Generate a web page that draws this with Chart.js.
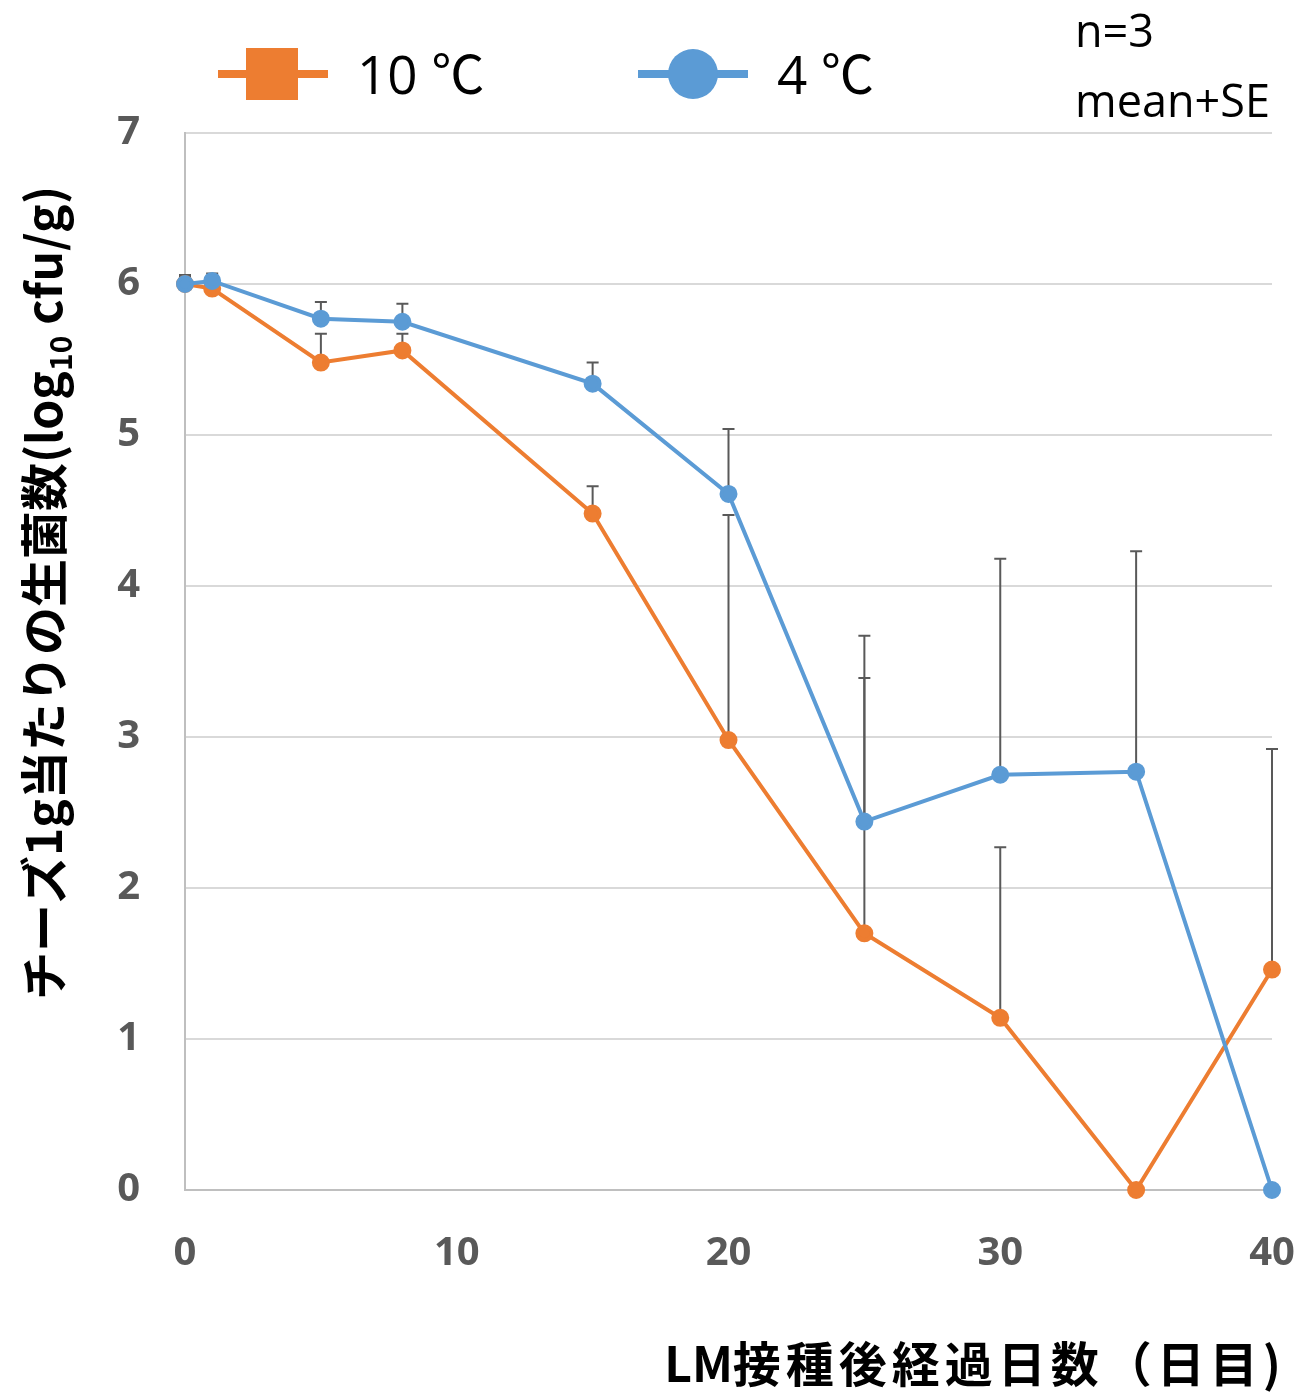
<!DOCTYPE html>
<html>
<head>
<meta charset="utf-8">
<script src="https://cdn.jsdelivr.net/npm/chart.js@4.4.1/dist/chart.umd.min.js"></script>
<style>
  html, body { margin: 0; padding: 0; background: #fff; }
  #wrap { width: 1301px; height: 1392px; }
</style>
</head>
<body>
<div id="wrap"><canvas id="chart" width="1301" height="1392"></canvas></div>
<script>
// days after LM inoculation
var days = [0, 1, 5, 8, 15, 20, 25, 30, 35, 40];
// 10 C
var mean10 = [6.00, 5.97, 5.48, 5.56, 4.48, 2.98, 1.70, 1.14, 0.00, 1.46];
var se10 = [0.05, 0.05, 0.19, 0.11, 0.18, 1.49, 1.69, 1.13, 0, 1.46];
// 4 C
var mean4 = [6.00, 6.02, 5.77, 5.75, 5.34, 4.61, 2.44, 2.75, 2.77, 0.00];
var se4 = [0.06, 0.05, 0.11, 0.12, 0.14, 0.43, 1.23, 1.43, 1.46, 0];

var xTicks = [0, 10, 20, 30, 40];
var yTicks = [0, 1, 2, 3, 4, 5, 6, 7];

var ORANGE = '#ED7D31';
var BLUE = '#5B9BD5';
var FONT = "'Open Sans', 'Noto Sans CJK JP', sans-serif";
var JFONT = "'Noto Sans CJK JP', sans-serif";

function toPoints(xs, ys) {
    return xs.map(function (x, i) { return { x: x, y: ys[i] }; });
}

var errorBars = {
    id: 'errorBars',
    beforeDatasetsDraw: function (chart) {
        var ctx = chart.ctx;
        var xs = chart.scales.x, ys = chart.scales.y;
        ctx.save();
        ctx.strokeStyle = '#595959';
        ctx.lineWidth = 2;
        chart.data.datasets.forEach(function (ds) {
            ds.data.forEach(function (p, i) {
                var e = ds.se[i];
                if (!e) return;
                var px = xs.getPixelForValue(p.x);
                var y0 = ys.getPixelForValue(p.y);
                var y1 = ys.getPixelForValue(p.y + e);
                ctx.beginPath();
                ctx.moveTo(px, y0);
                ctx.lineTo(px, y1);
                ctx.moveTo(px - 6, y1);
                ctx.lineTo(px + 6, y1);
                ctx.stroke();
            });
        });
        ctx.restore();
    }
};

var extras = {
    id: 'extras',
    afterDraw: function (chart) {
        var ctx = chart.ctx;
        ctx.save();
        // legend
        var legendX = [218, 638];
        chart.data.datasets.forEach(function (ds, k) {
            var x0 = legendX[k];
            ctx.strokeStyle = ds.borderColor;
            ctx.lineWidth = 8;
            ctx.beginPath();
            ctx.moveTo(x0, 74);
            ctx.lineTo(x0 + 110, 74);
            ctx.stroke();
            ctx.fillStyle = ds.backgroundColor;
            if (ds.legendMarker === 'square') {
                ctx.fillRect(x0 + 28, 48, 52, 52);
            } else {
                ctx.beginPath();
                ctx.arc(x0 + 55, 74, 25, 0, Math.PI * 2);
                ctx.fill();
            }
            ctx.fillStyle = '#000';
            ctx.font = '53px ' + FONT;
            ctx.textBaseline = 'alphabetic';
            ctx.textAlign = 'left';
            ctx.fillText(ds.label, x0 + 139, 94);
        });
        // notes
        ctx.font = '45px ' + FONT;
        ctx.fillStyle = '#000';
        ctx.fillText('n=3', 1075, 47);
        ctx.fillText('mean+SE', 1075, 117);

        // x axis title
        ctx.font = 'bold 48px ' + JFONT;
        ctx.textAlign = 'right';
        ctx.letterSpacing = '5px';
        ctx.fillText('接種後経過日数（日目)', 1286, 1382);
        var w = ctx.measureText('接種後経過日数（日目)').width;
        ctx.letterSpacing = '0px';
        ctx.fillText('LM', 1286 - w, 1382);

        // y axis title (rotated, with subscript)
        ctx.translate(62, 1000);
        ctx.rotate(-Math.PI / 2);
        ctx.textAlign = 'left';
        var parts = [
            ['チーズ1g当たりの生菌数(log', 'bold 48px ' + JFONT, 0],
            ['10', 'bold 30px ' + JFONT, 10],
            [' cfu/g)', 'bold 48px ' + JFONT, 0]
        ];
        var cx = 0;
        parts.forEach(function (pt) {
            ctx.font = pt[1];
            ctx.fillText(pt[0], cx, pt[2]);
            cx += ctx.measureText(pt[0]).width;
        });
        ctx.restore();
    }
};

var ctx = document.getElementById('chart').getContext('2d');
var chart = new Chart(ctx, {
    type: 'scatter',
    data: {
        datasets: [{
            label: '10 ℃',
            data: toPoints(days, mean10),
            se: se10,
            legendMarker: 'square',
            showLine: true,
            clip: false,
            borderColor: ORANGE,
            backgroundColor: ORANGE,
            borderWidth: 4,
            pointRadius: 7,
            pointHoverRadius: 7,
            order: 1
        }, {
            label: '4 ℃',
            data: toPoints(days, mean4),
            se: se4,
            legendMarker: 'circle',
            showLine: true,
            clip: false,
            borderColor: BLUE,
            backgroundColor: BLUE,
            borderWidth: 4,
            pointRadius: 7,
            pointHoverRadius: 7,
            order: 0
        }]
    },
    options: {
        responsive: false,
        animation: false,
        layout: { padding: { top: 133, right: 29, left: 0, bottom: 0 } },
        plugins: {
            legend: { display: false },
            tooltip: { enabled: false }
        },
        scales: {
            x: {
                type: 'linear',
                position: 'bottom',
                min: 0,
                max: 40,
                afterFit: function (s) { s.height = 202; s.paddingLeft = 0; s.paddingRight = 0; },
                afterBuildTicks: function (s) { s.ticks = xTicks.map(function (v) { return { value: v }; }); },
                grid: { display: false, drawTicks: false },
                border: { color: '#BFBFBF', width: 2 },
                ticks: {
                    padding: 40,
                    maxRotation: 0,
                    color: '#595959',
                    font: { family: FONT, size: 40, weight: 'bold' }
                }
            },
            y: {
                min: 0,
                max: 7,
                afterFit: function (s) { s.width = 185; s.paddingTop = 0; s.paddingBottom = 0; },
                afterBuildTicks: function (s) { s.ticks = yTicks.map(function (v) { return { value: v }; }); },
                grid: { color: '#D9D9D9', lineWidth: 2, drawTicks: false },
                border: { color: '#BFBFBF', width: 2 },
                ticks: {
                    padding: 45,
                    color: '#595959',
                    font: { family: FONT, size: 40, weight: 'bold' }
                }
            }
        }
    },
    plugins: [errorBars, extras]
});
</script>
</body>
</html>
